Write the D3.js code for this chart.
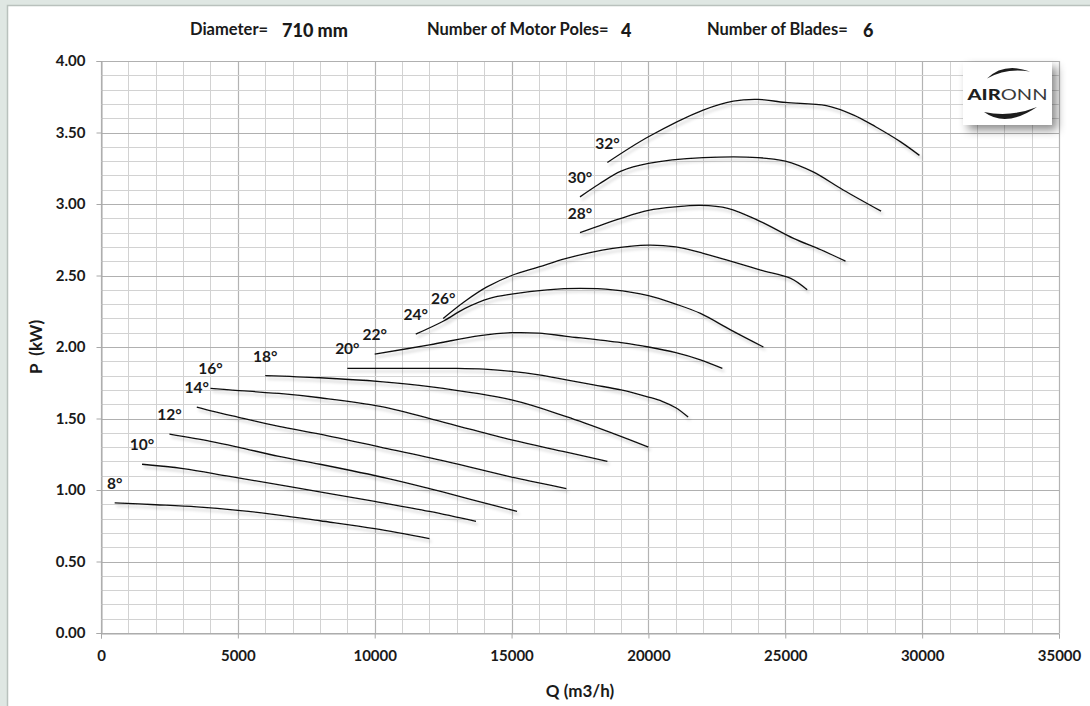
<!DOCTYPE html>
<html><head><meta charset="utf-8">
<script src="https://cdn.jsdelivr.net/npm/d3@7"></script>
<style>
html,body{margin:0;padding:0;background:#dfe7e3;}
svg{display:block;font-family:Lato,"Open Sans",sans-serif;}
</style></head>
<body>
<svg id="chart" width="1090" height="706"></svg>
<script>
// ---------- data ----------
const angleLabels = ["8°","10°","12°","14°","16°","18°","20°","22°","24°","26°","28°","30°","32°"];
const curve8  = [[500,0.91],[2000,0.897],[3500,0.882],[5000,0.858],[6500,0.825],[8000,0.785],[10000,0.73],[12000,0.66]];
const curve10 = [[1500,1.18],[3000,1.15],[4700,1.095],[7000,1.02],[10000,0.92],[12000,0.85],[13700,0.78]];
const curve12 = [[2500,1.39],[4000,1.34],[5000,1.30],[6500,1.235],[8000,1.18],[10500,1.08],[12000,1.01],[13500,0.935],[15200,0.85]];
const curve14 = [[3500,1.58],[4100,1.55],[5000,1.51],[6500,1.445],[8000,1.39],[10200,1.30],[12600,1.20],[15000,1.09],[16000,1.05],[17000,1.01]];
const curve16 = [[4000,1.71],[4700,1.70],[6500,1.675],[8000,1.645],[10200,1.585],[12600,1.47],[15000,1.35],[17000,1.265],[18500,1.20]];
const curve18 = [[6000,1.80],[8000,1.785],[10200,1.758],[12000,1.723],[15000,1.63],[17000,1.513],[18700,1.396],[20000,1.30]];
const curve20 = [[9000,1.85],[11000,1.85],[13000,1.85],[14000,1.845],[15000,1.83],[16000,1.805],[17000,1.77],[18000,1.735],[19000,1.70],[20000,1.65],[20500,1.62],[21000,1.575],[21450,1.51]];
const curve22 = [[10000,1.95],[12000,2.015],[13850,2.08],[15000,2.10],[16000,2.097],[17000,2.075],[19000,2.03],[20000,2.00],[21000,1.96],[21900,1.91],[22700,1.85]];
const curve24 = [[11500,2.09],[12500,2.18],[13300,2.27],[14200,2.34],[15000,2.37],[16300,2.40],[17500,2.41],[18700,2.40],[20000,2.36],[21000,2.30],[21900,2.235],[23000,2.12],[24200,2.00]];
const curve26 = [[12500,2.20],[13300,2.32],[14100,2.42],[15000,2.50],[16000,2.56],[17000,2.62],[18700,2.69],[20000,2.713],[21000,2.70],[22000,2.655],[23000,2.60],[24100,2.538],[25200,2.48],[25800,2.40]];
const curve28 = [[17500,2.80],[19000,2.90],[20000,2.955],[21000,2.98],[21900,2.99],[22900,2.97],[24100,2.877],[25300,2.76],[26300,2.68],[27200,2.60]];
const curve30 = [[17500,3.05],[18200,3.14],[19000,3.23],[20000,3.284],[22000,3.324],[24000,3.325],[25000,3.30],[26000,3.226],[27100,3.10],[28500,2.95]];
const curve32 = [[18500,3.29],[20000,3.47],[22000,3.657],[23100,3.72],[24000,3.732],[25000,3.71],[26500,3.688],[27500,3.622],[28300,3.54],[29200,3.436],[29900,3.34]];
const curves = [curve8,curve10,curve12,curve14,curve16,curve18,curve20,curve22,curve24,curve26,curve28,curve30,curve32];

const xTicks = [0,5000,10000,15000,20000,25000,30000,35000];
const yTicks = [0,0.5,1,1.5,2,2.5,3,3.5,4];
const headerLabels = ["Diameter=","Number of Motor Poles=","Number of Blades="];
const headerValues = ["710 mm","4","6"];
const xTitle = "Q (m3/h)";
const yTitle = "P\u00a0\u00a0(kW)";

// ---------- layout ----------
const W = 1090, H = 706;
const plot = {left:101, right:1059, top:61, bottom:633};
const svg = d3.select("#chart");

const defs = svg.append("defs");
const sh = defs.append("filter").attr("id","lineShadow").attr("x","-5%").attr("y","-20%").attr("width","110%").attr("height","160%");
sh.append("feDropShadow").attr("dx",2).attr("dy",3).attr("stdDeviation",1.6).attr("flood-color","#000").attr("flood-opacity",0.22);
const ls = defs.append("filter").attr("id","logoShadow").attr("x","-30%").attr("y","-30%").attr("width","170%").attr("height","180%");
ls.append("feDropShadow").attr("dx",5).attr("dy",5).attr("stdDeviation",5).attr("flood-color","#000").attr("flood-opacity",0.45);

// background frame
svg.append("rect").attr("x",0).attr("y",0).attr("width",W).attr("height",H).attr("fill","#dfe7e3");
svg.append("rect").attr("x",7.5).attr("y",5.5).attr("width",W).attr("height",H).attr("fill","#ffffff")
   .attr("stroke","#b9c1bd").attr("stroke-width",1.5);

const x = d3.scaleLinear().domain([0,35000]).range([plot.left, plot.right]);
const y = d3.scaleLinear().domain([0,4]).range([plot.bottom, plot.top]);

// grid
const grid = svg.append("g");
const minorX = d3.range(0,35001,1000);
const minorY = d3.range(0,41).map(d=>d/10);
grid.selectAll("line.vx").data(minorX).join("line")
  .attr("x1",d=>Math.round(x(d))+0.5).attr("x2",d=>Math.round(x(d))+0.5)
  .attr("y1",plot.top).attr("y2",plot.bottom)
  .attr("stroke",d=>d%5000===0?"#b3b3b3":"#d2d2d2").attr("stroke-width",d=>d%5000===0?1.2:1);
grid.selectAll("line.hy").data(minorY).join("line")
  .attr("y1",d=>Math.round(y(d))+0.5).attr("y2",d=>Math.round(y(d))+0.5)
  .attr("x1",plot.left).attr("x2",plot.right)
  .attr("stroke",d=>Math.round(d*10)%5===0?"#b0b0b0":"#d2d2d2").attr("stroke-width",d=>Math.round(d*10)%5===0?1.2:1);

// axes
const xAxis = d3.axisBottom(x).tickValues(xTicks).tickFormat(d3.format("d")).tickSize(5).tickPadding(12);
const gx = svg.append("g").attr("transform",`translate(0,${plot.bottom+0.5})`).call(xAxis);
gx.select(".domain").attr("stroke","#a8a8a8");
gx.selectAll(".tick line").attr("stroke","#a8a8a8");
gx.selectAll("text").attr("font-family","Lato").attr("font-weight","bold").attr("font-size",15).attr("fill","#1a1a1a");

const yAxis = d3.axisLeft(y).tickValues(yTicks).tickFormat(d3.format(".2f")).tickSize(5).tickPadding(11);
const gy = svg.append("g").attr("transform",`translate(${plot.left+0.5},0)`).call(yAxis);
gy.select(".domain").attr("stroke","#a8a8a8");
gy.selectAll(".tick line").attr("stroke","#a8a8a8");
gy.selectAll("text").attr("font-family","Lato").attr("font-weight","bold").attr("font-size",15).attr("fill","#1a1a1a");

// axis titles
svg.append("text").attr("x",580).attr("y",697).attr("text-anchor","middle")
  .attr("font-weight","bold").attr("font-size",17).attr("fill","#1a1a1a").text(xTitle);
svg.append("text").attr("transform",`translate(42,${(plot.top+plot.bottom)/2}) rotate(-90)`)
  .attr("text-anchor","middle").attr("font-weight","bold").attr("font-size",17).attr("fill","#1a1a1a")
  .text(yTitle);

// header
const headerX = [190,427,707];
const valueX = [282,621,863];
headerLabels.forEach((t,i)=>{
  svg.append("text").attr("x",headerX[i]).attr("y",35).attr("font-weight","bold").attr("font-size",16.5).attr("fill","#1a1a1a").text(t);
  svg.append("text").attr("x",valueX[i]).attr("y",37).attr("font-weight",900).attr("font-size",18).attr("fill","#1a1a1a").text(headerValues[i]);
});

// curves
const line = d3.line().x(d=>x(d[0])).y(d=>y(d[1])).curve(d3.curveCatmullRom.alpha(0.5));
const cg = svg.append("g").attr("filter","url(#lineShadow)");
cg.selectAll("path").data(curves).join("path")
  .attr("d",line).attr("fill","none").attr("stroke","#111").attr("stroke-width",1.3);

// angle labels
svg.append("g").selectAll("text").data(curves).join("text")
  .attr("x",d=>x(d[0][0])).attr("y",d=>y(d[0][1])-14)
  .attr("text-anchor","middle").attr("font-weight","bold").attr("font-size",15.5).attr("fill","#1a1a1a")
  .text((d,i)=>angleLabels[i]);

// logo
const logo = svg.append("g");
logo.append("rect").attr("x",963).attr("y",62).attr("width",89).attr("height",63).attr("fill","#fff").attr("filter","url(#logoShadow)");
logo.append("path").attr("d","M987,78.5 Q1004,62 1030,71.5 Q1006,67.5 987,78.5 Z").attr("fill","#1c1c1c");
logo.append("path").attr("d","M984,112 Q1006,128 1037,107 Q1011,117.5 984,112 Z").attr("fill","#1c1c1c");
const lt = logo.append("text").attr("x",967.5).attr("y",100).attr("font-family","Lato").attr("font-weight",900).attr("font-size",15.5)
  .attr("textLength",80).attr("lengthAdjust","spacingAndGlyphs");
lt.append("tspan").attr("fill","#1e1e1e").text("AIR");
lt.append("tspan").attr("fill","#3a3a3a").attr("font-weight",400).text("ONN");
</script>
</body></html>
